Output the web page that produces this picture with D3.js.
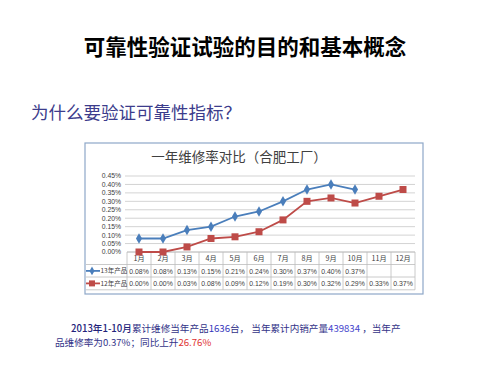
<!DOCTYPE html>
<html lang="zh">
<head>
<meta charset="UTF-8">
<title>一年维修率对比</title>
<script src="https://d3js.org/d3.v7.min.js"></script>
<style>
    body { margin: 0; background: #fff; }
    text { font-family: "Noto Sans CJK SC", "Noto Sans", sans-serif; }
    .num { font-family: "Liberation Sans", "DejaVu Sans", sans-serif; }
</style>
</head>
<body>
<svg width="504" height="378" id="svg1"></svg>
<script>
    const months = ["1月", "2月", "3月", "4月", "5月", "6月", "7月", "8月", "9月", "10月", "11月", "12月"];
    const rate13 = [0.08, 0.08, 0.13, 0.15, 0.21, 0.24, 0.30, 0.37, 0.40, 0.37];
    const rate12 = [0.00, 0.00, 0.03, 0.08, 0.09, 0.12, 0.19, 0.30, 0.32, 0.29, 0.33, 0.37];
    const yTicks = [0, 0.05, 0.10, 0.15, 0.20, 0.25, 0.30, 0.35, 0.40, 0.45];
    const seriesNames = ["13年产品", "12年产品"];

    const svg = d3.select('#svg1');

    // page headings
    svg.append('text')
        .attr('x', 245).attr('y', 55)
        .attr('text-anchor', 'middle')
        .style('font-size', '21.5px').style('font-weight', 'bold')
        .attr('fill', '#000')
        .text('可靠性验证试验的目的和基本概念');

    svg.append('text')
        .attr('x', 31).attr('y', 119)
        .style('font-size', '17.5px')
        .attr('fill', '#3c3c8c')
        .text('为什么要验证可靠性指标？');

    // chart box
    const box = { x: 85, y: 143, w: 338, h: 151 };
    svg.append('rect')
        .attr('x', box.x).attr('y', box.y)
        .attr('width', box.w).attr('height', box.h)
        .attr('fill', '#fff').attr('stroke', '#8ea7c8').attr('stroke-width', 1.2);

    svg.append('text')
        .attr('x', 239).attr('y', 162)
        .attr('text-anchor', 'middle')
        .style('font-size', '13.5px')
        .attr('fill', '#404040')
        .text('一年维修率对比（合肥工厂）');

    const x = d3.scaleBand()
        .domain(months)
        .range([127, 415]);

    const y = d3.scaleLinear()
        .domain([0, 0.45])
        .range([252, 176]);

    // grid + y labels
    svg.append('g')
        .selectAll('line')
        .data(yTicks.slice(1))
        .enter().append('line')
        .attr('x1', 125).attr('x2', 415)
        .attr('y1', d => y(d)).attr('y2', d => y(d))
        .attr('stroke', '#c8c8c8').attr('stroke-width', 0.8);

    svg.append('g')
        .selectAll('text')
        .data(yTicks)
        .enter().append('text')
        .attr('class', 'num')
        .attr('x', 121).attr('y', d => y(d) + 2.4)
        .attr('text-anchor', 'end')
        .style('font-size', '6.8px')
        .attr('fill', '#404040')
        .text(d => d.toFixed(2) + '%');

    // data table
    const rowTop = [252, 264.5, 277];
    const rowH = 12.8;
    const tg = svg.append('g').attr('stroke', '#bdbdbd').attr('stroke-width', 0.8);
    tg.append('line').attr('x1', 127).attr('x2', 415).attr('y1', rowTop[0]).attr('y2', rowTop[0]).attr('stroke', '#999');
    [rowTop[1], rowTop[2], rowTop[2] + rowH].forEach(v => {
        tg.append('line').attr('x1', 86).attr('x2', 415).attr('y1', v).attr('y2', v);
    });
    tg.selectAll('line.v')
        .data(months.concat(['end']))
        .enter().append('line')
        .attr('class', 'v')
        .attr('x1', (d, i) => 127 + i * x.bandwidth())
        .attr('x2', (d, i) => 127 + i * x.bandwidth())
        .attr('y1', rowTop[0]).attr('y2', rowTop[2] + rowH);

    svg.append('g')
        .selectAll('text')
        .data(months)
        .enter().append('text')
        .attr('x', d => x(d) + x.bandwidth() / 2)
        .attr('y', rowTop[0] + 9)
        .attr('text-anchor', 'middle')
        .style('font-size', '7.2px')
        .attr('fill', '#404040')
        .text(d => d);

    [rate13, rate12].forEach((vals, r) => {
        svg.append('g')
            .selectAll('text')
            .data(vals)
            .enter().append('text')
            .attr('class', 'num')
            .attr('x', (d, i) => x(months[i]) + x.bandwidth() / 2)
            .attr('y', rowTop[r + 1] + 9)
            .attr('text-anchor', 'middle')
            .style('font-size', '6.9px')
            .attr('fill', '#404040')
            .text(d => d.toFixed(2) + '%');
    });

    const colors = ['#4a7ebb', '#be4b48'];
    const line = d3.line()
        .x((d, i) => x(months[i]) + x.bandwidth() / 2)
        .y(d => y(d));

    // legend keys in table
    seriesNames.forEach((name, r) => {
        const cy = rowTop[r + 1] + rowH / 2;
        svg.append('line')
            .attr('x1', 86).attr('x2', 100).attr('y1', cy).attr('y2', cy)
            .attr('stroke', colors[r]).attr('stroke-width', 1.8);
        if (r === 0) {
            svg.append('path')
                .attr('d', d3.symbol(d3.symbolDiamond, 22)())
                .attr('transform', `translate(92,${cy})`)
                .attr('fill', colors[r]);
        } else {
            svg.append('rect')
                .attr('x', 89).attr('y', cy - 3).attr('width', 6).attr('height', 6)
                .attr('fill', colors[r]);
        }
        svg.append('text')
            .attr('x', 100.5).attr('y', cy + 2.5)
            .style('font-size', '6.5px')
            .attr('fill', '#404040')
            .text(name);
    });

    // series lines
    svg.append('path')
        .datum(rate12)
        .attr('d', line)
        .attr('fill', 'none').attr('stroke', colors[1]).attr('stroke-width', 1.8);
    svg.append('g')
        .selectAll('rect')
        .data(rate12)
        .enter().append('rect')
        .attr('x', (d, i) => x(months[i]) + x.bandwidth() / 2 - 3.5)
        .attr('y', d => y(d) - 3.5)
        .attr('width', 7).attr('height', 7)
        .attr('fill', colors[1]);

    svg.append('path')
        .datum(rate13)
        .attr('d', line)
        .attr('fill', 'none').attr('stroke', colors[0]).attr('stroke-width', 1.8);
    svg.append('g')
        .selectAll('path')
        .data(rate13)
        .enter().append('path')
        .attr('d', d3.symbol(d3.symbolDiamond, 32)())
        .attr('transform', (d, i) => `translate(${x(months[i]) + x.bandwidth() / 2},${y(d)})`)
        .attr('fill', colors[0]);

    // bottom note
    const note1 = svg.append('text')
        .attr('x', 71).attr('y', 332)
        .style('font-size', '9.6px')
        .attr('fill', '#333388');
    note1.append('tspan').style('font-weight', '500').attr('fill', '#22227a').text('2013年1-10月');
    note1.append('tspan').text('累计维修当年产品');
    note1.append('tspan').attr('fill', '#3333bb').text('1636');
    note1.append('tspan').text('台，  当年累计内销产量');
    note1.append('tspan').attr('fill', '#4444cc').text('439834');
    note1.append('tspan').text('   ，当年产');

    const note2 = svg.append('text')
        .attr('x', 55).attr('y', 346)
        .style('font-size', '9.6px')
        .attr('fill', '#333388');
    note2.append('tspan').text('品维修率为0.37%；同比上升');
    note2.append('tspan').attr('fill', '#e03030').text('26.76%');
</script>
</body>
</html>
